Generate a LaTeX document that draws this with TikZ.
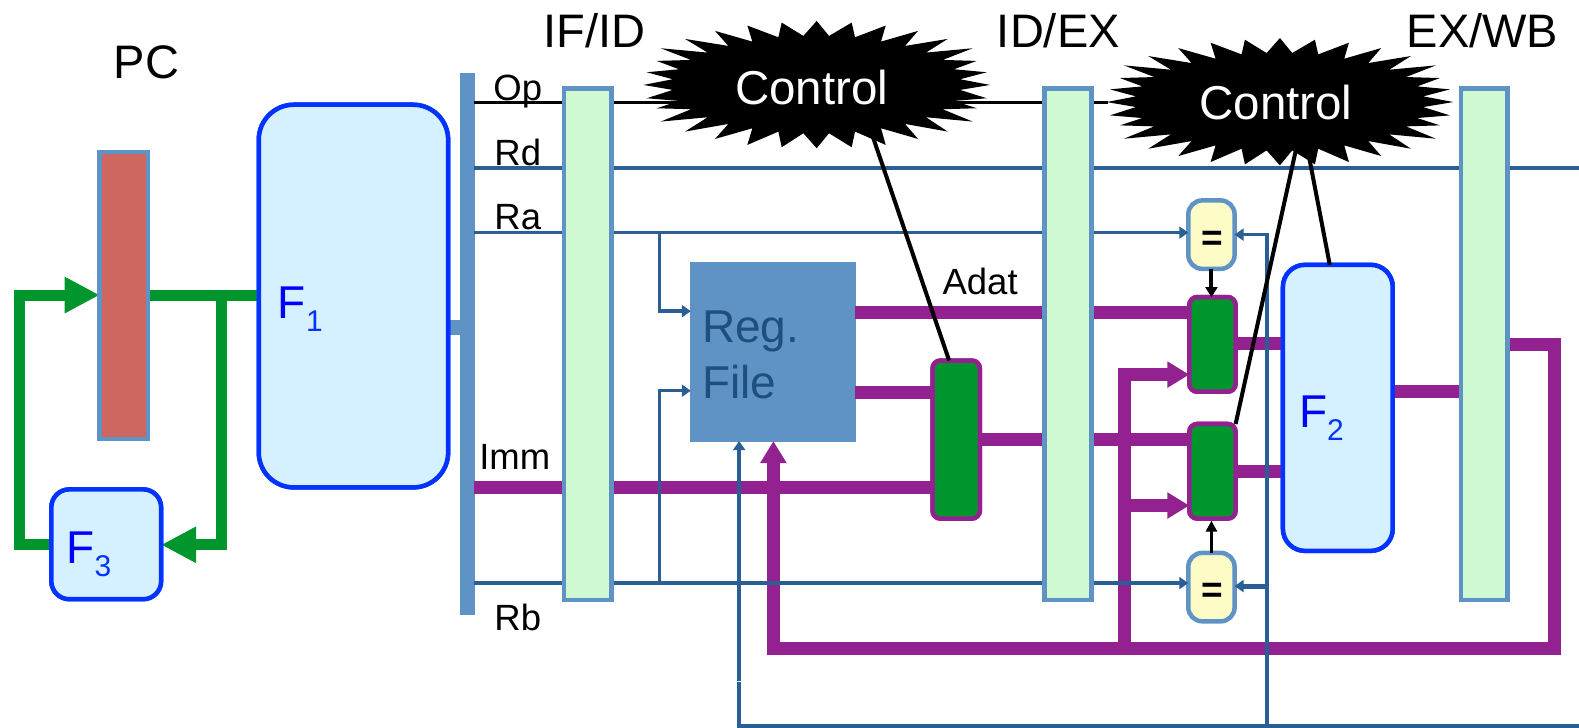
\documentclass[tikz,border=0pt]{standalone}
\usepackage{fontspec}
\setmainfont{Liberation Sans}
\usetikzlibrary{arrows.meta,calc}
\definecolor{blueb}{HTML}{5F93C6}
\definecolor{wire}{HTML}{2A5F96}
\definecolor{purp}{HTML}{93218F}
\definecolor{grn}{HTML}{00962E}
\definecolor{fbox}{HTML}{D5F0FF}
\definecolor{fline}{HTML}{0433FF}
\definecolor{latchfill}{HTML}{CFF9D0}
\definecolor{pcfill}{HTML}{CD675F}
\definecolor{eqfill}{HTML}{FDFCC6}
\definecolor{regtext}{HTML}{1F4E80}
\newcommand{\fs}[1]{\fontsize{#1}{#1}\selectfont}
\newcommand{\boxat}[6]{\node[#2,minimum width={(#5-#3-2)*1.007pt},minimum height={(#6-#4-2)*1.007pt}] (#1) at ({(#3+#5)/2},{(#4+#6)/2}) {};}
\newcommand{\starburst}[2]{\begin{scope}[shift={(#1,#2)},scale=.331,shift={(-560,-194)}]
\fill[black]
(560,3)--(597,48)--(665,8)--(675,52)--(767,17)--(753,65)--(864,33)--(825,78)--(953,57)--(888,98)--(1028,85)--(938,120)--(1040,123)--(972,148)--(1070,157)--(990,178)--(1080,195)--(990,210)--(1070,235)--(972,243)--(1040,265)--(938,268)--(1028,305)--(888,292)--(953,335)--(825,312)--(864,357)--(753,325)--(767,375)--(675,335)--(665,382)--(597,340)--(560,385)--(520,340)--(455,382)--(445,335)--(352,375)--(367,325)--(255,357)--(295,312)--(165,335)--(233,292)--(92,305)--(183,268)--(80,265)--(147,243)--(50,235)--(128,210)--(40,195)--(128,178)--(50,157)--(147,148)--(80,123)--(183,120)--(92,85)--(233,98)--(165,57)--(295,78)--(255,33)--(367,65)--(352,17)--(445,52)--(455,8)--(520,48)--cycle;
\end{scope}}
\tikzset{
  base box/.style={draw,line width=4.5pt,inner sep=0pt,outer sep=0pt},
  fblock/.style={base box,draw=fline,fill=fbox},
  latch/.style={base box,draw=blueb,fill=latchfill},
  pcreg/.style={base box,draw=blueb,fill=pcfill},
  busbar/.style={base box,line width=2pt,draw=blueb,fill=blueb},
  regfile/.style={base box,line width=2pt,draw=blueb,fill=blueb},
  muxbox/.style={base box,draw=purp,fill=grn,rounded corners=8pt},
  eqbox/.style={base box,draw=blueb,fill=eqfill,rounded corners=14pt,text=black},
  greenline/.style={draw=grn,line width=11pt,line join=miter},
  purpline/.style={draw=purp,line width=13pt,line join=miter},
  wireline/.style={draw=wire,line width=3.5pt},
  ctlline/.style={draw=black,line width=4pt},
  txt/.style={anchor=base west,inner sep=0pt,outer sep=0pt,text=black},
  bigt/.style={txt,font=\fs{47}},
  smallt/.style={txt,font=\fs{36.5}},
  ftext/.style={txt,font=\fs{46},text=blue},
  greentip/.style={-{Triangle[length=35pt,width=34pt]}},
  purptip/.style={-{Triangle[length=22pt,width=25pt]}},
  wiretip/.style={-{Triangle[length=9pt,width=12pt]}},
}
\begin{document}
\begin{tikzpicture}[x=1.007pt,y=-1.007pt]
\useasboundingbox (0,0) rectangle (1568,722);
% bus and its stub, under the F1 block
\boxat{bus}{busbar}{457}{72}{472}{611}
\coordinate (stuby) at (440,325);
\draw[draw=blueb,line width=15pt] (stuby) -- (bus.west |- stuby);
% blocks, placed first so the wiring can name them
\boxat{pc}{pcreg}{98}{150}{148}{437}
\boxat{fone}{fblock,rounded corners=35pt}{256}{103}{446}{485}
\boxat{fthree}{fblock,rounded corners=18pt}{50}{485}{161}{596}
\boxat{ftwo}{fblock,rounded corners=22pt}{1273}{262}{1384}{548}
% green wiring
\coordinate (gy) at (0,293);
\coordinate (gb) at (220,293);
\coordinate (gl) at (19,293);
\coordinate (f3y) at (0,541);
\draw[greenline] (pc.east |- gy) -- (fone.west |- gy);
\draw[greenline,greentip] (gb) -- (gb |- f3y) -- (fthree.east |- f3y);
\draw[greenline,greentip] (fthree.west |- f3y) -- (gl |- f3y) -- (gl) -- (pc.west |- gy);
\boxat{pc}{pcreg}{98}{150}{148}{437}
\boxat{fone}{fblock,rounded corners=35pt}{256}{103}{446}{485}
\boxat{fthree}{fblock,rounded corners=18pt}{50}{485}{161}{596}
% main blocks
\boxat{reg}{regfile}{685}{260}{850}{439}
\boxat{muxa}{muxbox}{925}{357}{974}{516}
\boxat{muxb}{muxbox}{1180}{294}{1228}{390}
\boxat{muxc}{muxbox}{1180}{420}{1228}{516}
\boxat{eqa}{eqbox}{1179}{198}{1227}{268}
\boxat{eqb}{eqbox}{1179}{548}{1227}{618}
% purple datapath
\coordinate (py1) at (0,310);
\coordinate (py2) at (0,390);
\coordinate (py3) at (0,484);
\coordinate (py4) at (0,436);
\coordinate (py5) at (0,341);
\coordinate (py6) at (0,468);
\coordinate (py7) at (0,389);
\coordinate (py8) at (0,342);
\coordinate (pbr) at (1544,644);
\coordinate (pbl) at (768,644);
\coordinate (pv) at (1117,644);
\coordinate (pa1) at (1117,372);
\coordinate (pa2) at (1117,502);
\draw[purpline] (reg.east |- py1) -- (muxb.west |- py1);
\draw[purpline] (reg.east |- py2) -- (muxa.west |- py2);
\draw[purpline] (bus.east |- py3) -- (muxa.west |- py3);
\draw[purpline] (muxa.east |- py4) -- (muxc.west |- py4);
\draw[purpline] (muxb.east |- py5) -- (ftwo.west |- py5);
\draw[purpline] (muxc.east |- py6) -- (ftwo.west |- py6);
\draw[purpline] (ftwo.east |- py7) -- (1450,389);
\draw[purpline,purptip] (1498,342) -- (pbr |- py8) -- (pbr) -- (pbl) -- (reg.south -| pbl);
\draw[purpline,purptip] (pv) -- (pa1) -- (muxb.west |- pa1);
\draw[purpline,purptip] (pa2) -- (muxc.west |- pa2);
\boxat{ftwo}{fblock,rounded corners=22pt}{1273}{262}{1384}{548}
\boxat{muxa}{muxbox}{925}{357}{974}{516}
\boxat{muxb}{muxbox}{1180}{294}{1228}{390}
\boxat{muxc}{muxbox}{1180}{420}{1228}{516}
% wires
\coordinate (wop) at (0,102);
\coordinate (wrd) at (0,167);
\coordinate (wra) at (0,231);
\coordinate (wrb) at (0,579);
\coordinate (wright) at (1568,167);
\coordinate (wbr) at (655,231);
\coordinate (wbot) at (1568,721);
\coordinate (wl) at (734,721);
\coordinate (wgap) at (734,677.5);
\coordinate (wgap2) at (734,676);
\coordinate (wm) at (1258,721);
\coordinate (wt) at (1258,233);
\coordinate (wb2) at (1258,582);
\coordinate (wr1) at (655,309);
\coordinate (wr2) at (655,388);
\draw[draw=black,line width=3.5pt] (bus.east |- wop) -- (1100,102);
\draw[wireline] (bus.east |- wrd) -- (wright);
\draw[wireline,wiretip] (bus.east |- wra) -- (eqa.west |- wra);
\draw[wireline,wiretip] (bus.east |- wrb) -- (eqb.west |- wrb);
\draw[wireline,wiretip] (wbr) -- (wr1) -- (reg.west |- wr1);
\draw[wireline,wiretip] (wbr |- wrb) -- (wr2) -- (reg.west |- wr2);
\draw[wireline] (wbot) -- (wl) -- (wgap);
\draw[wireline,wiretip] (wgap2) -- (reg.south -| wgap2);
\draw[wireline,wiretip] (wm) -- (wt) -- (eqa.east |- wt);
\draw[draw=wire,line width=5pt,wiretip] (wb2) -- (eqb.east |- wb2);
% latches
\boxat{ifid}{latch}{559}{87}{608}{597}
\boxat{idex}{latch}{1036}{87}{1085}{597}
\boxat{exwb}{latch}{1450}{87}{1498}{597}
% control
\coordinate (ca) at (860,116);
\coordinate (cb) at (1291,130);
\coordinate (cc) at (1295,130);
\draw[ctlline] (ca) -- ($(muxa.north)+(-7,0)$);
\draw[ctlline] (cb) -- (muxc.north east);
\draw[ctlline] (cc) -- ($(ftwo.north)+(-8,0)$);
\draw[draw=black,line width=4pt,-{Triangle[length=10pt,width=12pt]}] (eqa.south) -- (eqa.south |- muxb.north);
\draw[draw=black,line width=3.5pt,-{Triangle[length=11pt,width=11pt]}] (eqb.north) -- ($(eqb.north |- muxc.south)+(0,2)$);
\starburst{811}{84}
\starburst{1271}{101}
\node[font=\fs{47.5},text=white,inner sep=0pt] (ctla) at (806,87) {Control};
\node[font=\fs{47.5},text=white,inner sep=0pt] (ctlb) at (1267,102) {Control};
% text
\node[font=\fs{37}\bfseries,inner sep=0pt] (eqta) at ($(eqa.center)+(1,6)$) {=};
\node[font=\fs{37}\bfseries,inner sep=0pt] (eqtb) at ($(eqb.center)+(1,6)$) {=};
\node[bigt] (tpc) at (113,78) {PC};
\node[bigt] (tif) at (540,47) {IF/ID};
\node[bigt] (tid) at (990,47) {ID/EX};
\node[bigt] (tex) at (1397,47) {EX/WB};
\node[smallt] (top) at (490,100) {Op};
\node[smallt] (trd) at (491,164) {Rd};
\node[smallt] (tra) at (491,228) {Ra};
\node[smallt] (tim) at (476,466) {Imm};
\node[smallt] (trb) at (491,626) {Rb};
\node[smallt] (tad) at (936,292) {Adat};
\node[ftext] (tf1) at (276,316) {F\raisebox{-.28em}{\fs{30}\textcolor{fline}{1}}};
\node[ftext] (tf3) at (66,560) {F\raisebox{-.28em}{\fs{30}\textcolor{fline}{3}}};
\node[ftext] (tf2) at (1290,425) {F\raisebox{-.28em}{\fs{30}\textcolor{fline}{2}}};
\node[anchor=west,align=left,inner sep=0pt,text=regtext,font=\fontsize{46}{56}\selectfont] (treg) at (697,352) {Reg.\\File};
\end{tikzpicture}
\end{document}
